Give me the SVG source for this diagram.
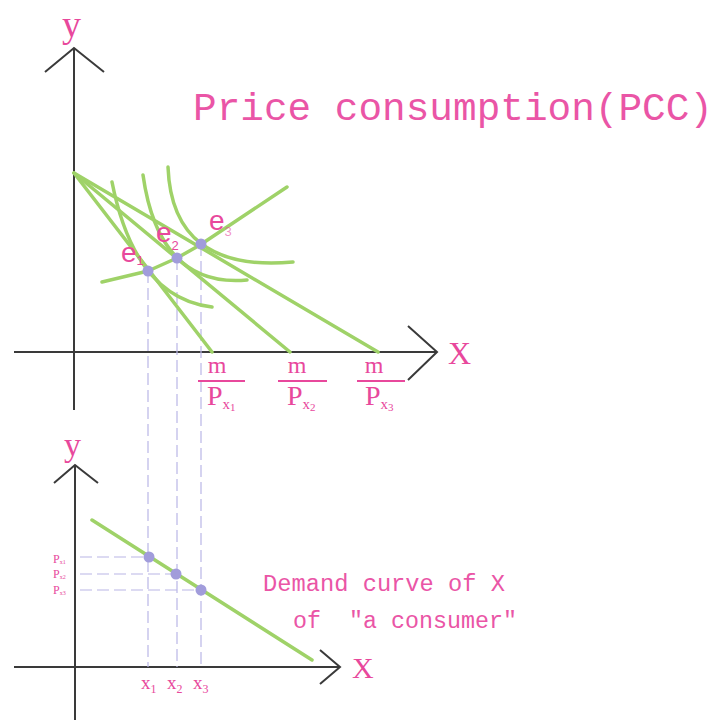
<svg xmlns="http://www.w3.org/2000/svg" width="718" height="720" viewBox="0 0 718 720">
<style>
.ax{stroke:#3a3a3a;stroke-width:2;fill:none}
.g{stroke:#9fd268;stroke-width:3.5;fill:none;stroke-linecap:round;stroke-linejoin:round}
.d{stroke:#b9b6e6;stroke-width:1.2;fill:none;stroke-dasharray:12 5}
.dot{fill:#a19cdb}
.t{fill:#e8489c;font-family:"Liberation Serif",serif}
.m{fill:#ea55a6;font-family:"Liberation Mono",monospace;white-space:pre}
.s{fill:#e8489c;font-family:"Liberation Sans",sans-serif}
.bar{stroke:#e8489c;stroke-width:2}
</style>
<rect width="718" height="720" fill="#fff"/>
<g id="axes">
<path class="ax" d="M74,48 V410"/>
<path class="ax" d="M45,72 L74,48 L104,72"/>
<path class="ax" d="M14,352 H437"/>
<path class="ax" d="M408,326 L437,352 L408,380"/>
<path class="ax" d="M75,465 V720"/>
<path class="ax" d="M54,483 L75,465 L98,483"/>
<path class="ax" d="M14,667 H340"/>
<path class="ax" d="M320,650 L340,667 L320,684"/>
</g>
<g id="connectors">
<path class="d" d="M148,271 V667 M177,258 V667 M201,244 V667"/>
<path class="d" d="M80,557 H149 M80,574 H176 M80,590 H201"/>
</g>
<g id="budget-lines">
<path class="g" d="M74,173 L212,352"/>
<path class="g" d="M74,173 L290,352"/>
<path class="g" d="M74,173 L378,352"/>
</g>
<g id="indifference-curves">
<path class="g" d="M112,182 Q135,298 212,307"/>
<path class="g" d="M143,175 Q159,288 247,280"/>
<path class="g" d="M168,167 Q172,273 293,262"/>
</g>
<g id="pcc">
<path class="g" d="M102,282 L148,271 L177,258 L200,245 L287,187"/>
</g>
<g id="demand">
<path class="g" d="M92,520 L312,660"/>
</g>
<g id="points">
<circle class="dot" cx="148" cy="271" r="5.5"/>
<circle class="dot" cx="177" cy="258" r="5.5"/>
<circle class="dot" cx="201" cy="244" r="5.5"/>
<circle class="dot" cx="149" cy="557" r="5.5"/>
<circle class="dot" cx="176" cy="574" r="5.5"/>
<circle class="dot" cx="201" cy="590" r="5.5"/>
</g>
<g id="labels">
<text class="t" x="62" y="37" font-size="38">y</text>
<text class="t" x="448" y="364" font-size="32">X</text>
<text class="m" x="193" y="120" font-size="38" textLength="520" lengthAdjust="spacingAndGlyphs">Price consumption(PCC)</text>
<text class="s" x="121" y="262" font-size="28">e<tspan font-size="13" dy="3">1</tspan></text>
<text class="s" x="156" y="242" font-size="28">e<tspan font-size="13" dy="8">2</tspan></text>
<text class="s" x="209" y="230" font-size="28">e<tspan font-size="13" dy="6" fill-opacity="0.6">3</tspan></text>
<g id="frac1">
<text class="t" x="217" y="373" font-size="24" text-anchor="middle">m</text>
<line class="bar" x1="198" y1="381" x2="245" y2="381"/>
<text class="t" x="207" y="405" font-size="28">P<tspan font-size="15" dy="4">x</tspan><tspan font-size="11" dy="2">1</tspan></text>
</g>
<g id="frac2">
<text class="t" x="297" y="373" font-size="24" text-anchor="middle">m</text>
<line class="bar" x1="278" y1="381" x2="327" y2="381"/>
<text class="t" x="287" y="405" font-size="28">P<tspan font-size="15" dy="4">x</tspan><tspan font-size="11" dy="2">2</tspan></text>
</g>
<g id="frac3">
<text class="t" x="374" y="373" font-size="24" text-anchor="middle">m</text>
<line class="bar" x1="357" y1="381" x2="405" y2="381"/>
<text class="t" x="365" y="405" font-size="28">P<tspan font-size="15" dy="4">x</tspan><tspan font-size="11" dy="2">3</tspan></text>
</g>
<text class="t" x="64" y="456" font-size="34">y</text>
<text class="t" x="352" y="678" font-size="30">X</text>
<text class="t" x="53" y="563" font-size="12">P<tspan font-size="6" dy="1">x1</tspan></text>
<text class="t" x="53" y="578" font-size="12">P<tspan font-size="6" dy="1">x2</tspan></text>
<text class="t" x="53" y="594" font-size="12">P<tspan font-size="6" dy="1">x3</tspan></text>
<text class="t" x="141" y="689" font-size="19">x<tspan font-size="12" dy="4">1</tspan></text>
<text class="t" x="167" y="689" font-size="19">x<tspan font-size="12" dy="4">2</tspan></text>
<text class="t" x="193" y="689" font-size="19">x<tspan font-size="12" dy="4">3</tspan></text>
<text class="m" x="263" y="591" font-size="23" textLength="242" lengthAdjust="spacingAndGlyphs">Demand curve of X</text>
<text class="m" x="293" y="628" font-size="23" textLength="224" lengthAdjust="spacingAndGlyphs">of&#160;&#160;"a consumer"</text>
</g>
</svg>
